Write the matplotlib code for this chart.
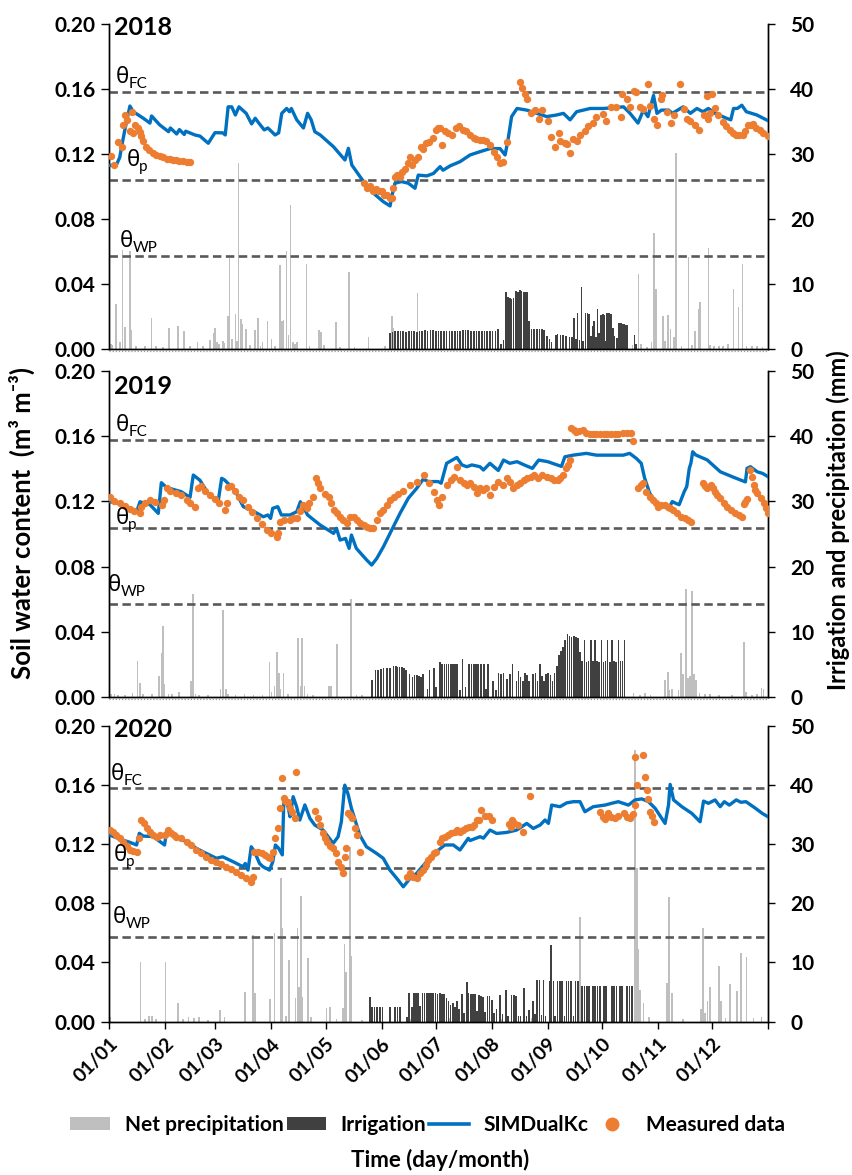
import matplotlib
matplotlib.use("Agg")
import matplotlib.pyplot as plt
from matplotlib.patches import Patch
from matplotlib.lines import Line2D
from matplotlib.transforms import offset_copy

plt.rcParams['font.family'] = ['Lato', 'DejaVu Sans']

# ---------------- data (day of year, value) ----------------
month_days = [0, 31, 59, 90, 120, 151, 181, 212, 243, 273, 304, 334, 365]
month_labels = ['01/01', '01/02', '01/03', '01/04', '01/05', '01/06',
                '01/07', '01/08', '01/09', '01/10', '01/11', '01/12', '']

theta_fc, theta_p, theta_wp = 0.158, 0.104, 0.057

# 2018
sim18_day = [0.5, 4, 6, 7, 9, 11.6, 13.5, 19, 22.7, 23.6, 28, 33, 34, 37.5, 39, 41.7, 42.5, 47.6, 50.4, 55,
             58.7, 63, 64.4, 66, 68, 70, 72, 76, 79, 81, 83, 86, 88, 92, 94, 95.7, 98.4, 100, 101, 104,
             107.7, 110, 112, 114, 117, 124.3, 130.7, 132.6, 134.5, 141, 146.5, 152, 155.7, 156.6, 158.4,
             162, 165.8, 169.5, 171.3, 176, 179.7, 183.4, 185, 189, 194.5, 200, 205.5, 211, 216.6, 219.4,
             221, 223, 226, 231.4, 237, 242.5, 248, 251.7, 255.4, 259, 266.5, 273.9, 285, 288.6, 293,
             296, 298.5, 301.6, 303.5, 306, 310, 312, 318, 322, 325.6, 329, 332, 335.7, 342, 344.4,
             345.9, 348, 350.5, 353, 358.8, 365]
sim18_swc = [.113, .113, .118, .1245, .136, .1495, .146, .142, .139, .1434, .138, .1337, .136, .1323, .135,
             .132, .134, .1317, .131, .1266, .1331, .133, .1317, .149, .149, .144, .149, .145, .1385, .142,
             .139, .1348, .136, .1317, .133, .145, .148, .146, .148, .141, .136, .145, .141, .1337, .1317,
             .1245, .1163, .1235, .1132, .103, .0958, .0906, .088, .0937, .102, .103, .102, .0989, .107,
             .1065, .108, .1122, .110, .1127, .1153, .1194, .1214, .1233, .1233, .1194, .1286, .143, .148,
             .147, .145, .143, .144, .145, .141, .146, .148, .148, .149, .145, .139, .147, .143, .156, .145,
             .147, .147, .145, .149, .145, .148, .146, .148, .145, .142, .141, .148, .148, .150, .146, .144,
             .1405]
obs18_day = [1, 3, 5, 7, 8, 9, 10, 11.6, 12.5, 13.5, 14.4, 16, 17, 18, 19, 20.7, 22, 24.4, 26, 28, 30, 32,
             34, 35.5, 37, 39, 41, 43, 45,
             141, 143, 144.5, 146, 148, 149.5, 151, 152.5, 154, 155.5, 156.6, 157.5, 158.4, 159.5, 161,
             162.5, 164, 165.8, 166.8, 168, 169.5, 171, 172.8, 173.8, 175.5, 177.5, 179.3, 181, 182,
             183.4, 184.4, 186, 188, 190, 192, 194, 196, 198, 200, 202, 203.5, 205.5, 207.4, 209, 211,
             213, 215, 216.6, 218.5, 220.3,
             227.7, 228.6, 230.4, 231.7, 234, 236, 238, 240, 243, 245, 247, 249, 250, 252.5, 253.6,
             255.4, 257, 259, 261, 263.7, 265.5, 268, 270, 273.7, 275.5, 278.2, 281, 283.5, 284, 287,
             288.8, 290.6, 292, 294, 296, 298.8, 299.7, 301.6, 303.6, 305.5, 306.5, 309, 311.2, 313,
             316.5, 318.4, 320, 322, 324.8, 327, 329.6, 331, 331.5, 333, 333.8, 335.7, 337.5, 340, 342,
             343.7, 345.5, 347.4, 349, 351, 352.5, 354, 355.5, 356.7, 358.5, 360.4, 362.5, 365]
obs18_swc = [.119, .1135, .1275, .1245, .138, .144, .141, .134, .146, .133, .138, .136, .1337, .131, .128,
             .1245, .1225, .1204, .1195, .119, .118, .1172, .1167, .1163, .116, .1157, .1154, .1151, .1149,
             .102, .099, .100, .097, .0985, .097, .0975, .095, .0948, .093, .0927, .099, .106, .107, .106,
             .109, .111, .1143, .1183, .113, .116, .118, .1245, .123, .127, .1275, .1297, .1348, .1358,
             .1358, .1255, .134, .133, .1317, .1358, .137, .135, .134, .1317, .130, .129, .1286, .1286,
             .128, .1255, .1214, .118, .1143, .115, .1276,
             .1645, .1605, .157, .154, .145, .147, .1418, .147, .140, .1307, .1245, .1328, .128, .127,
             .126, .1204, .129, .128, .1317, .134, .137, .139, .1425, .1445, .140, .149, .149, .1425,
             .157, .154, .149, .159, .158, .149, .1478, .163, .1498, .1418, .1378, .154, .156, .1458,
             .139, .1438, .163, .1478, .1418, .140, .1378, .1348, .1438, .1554, .1418, .1452, .157, .148,
             .1438, .1397, .137, .1348, .1328, .1317, .1314, .1317, .134, .1378, .138, .1383, .136,
             .1348, .133, .131]
rain18_day = [1, 2, 3.9, 6, 7.4, 8.8, 11.6, 12.5, 15, 20, 23.6, 26, 30, 33.4, 38.4, 41.7, 45, 49, 52, 56,
              57.8, 58.7, 60, 61, 63, 64, 65.8, 66.7, 68, 70, 71, 71.7, 73, 74, 76, 78, 80.9, 82.7, 84,
              85, 87.7, 90, 92, 94.7, 95.7, 96.7, 98.4, 99.5, 100.6, 102, 103, 104, 109.5, 111, 116.3,
              117.5, 119, 125.8, 128, 132.8, 136, 143.7, 153, 155.5, 156.6, 157.6, 170.8, 286, 290,
              293.3, 294.5, 298, 300.5, 302, 303, 306.7, 308, 309.5, 311, 313, 314, 317, 321, 323, 324.5,
              326.5, 327.5, 332, 333, 335, 338, 340, 343, 345.9, 348.6, 350.9, 353, 356, 359, 362]
rain18_mm = [0.8, 0.6, 6.9, 1.0, 15.2, 3.4, 15.0, 2.9, 0.5, 0.4, 4.7, 0.4, 0.3, 3.3, 3.6, 2.7, 0.5, 1.1,
             0.4, 1.4, 2.5, 3.2, 1.0, 0.8, 1.3, 0.9, 5.0, 14.0, 1.5, 5.4, 1.2, 28.6, 4.6, 3.8, 3.0, 0.6,
             2.9, 4.7, 0.5, 1.0, 4.3, 1.6, 0.4, 12.9, 4.3, 4.5, 15.0, 2.1, 22.2, 1.1, 0.8, 1.1, 13.1, 0.4,
             2.9, 2.6, 0.6, 4.1, 0.3, 11.9, 0.3, 1.9, 0.4, 2.5, 5.1, 3.3, 8.6, 1.1, 0.6, 11.5, 0.7, 0.3,
             1.0, 17.9, 9.3, 5.1, 1.3, 5.2, 3.0, 1.8, 30.1, 0.5, 14.1, 0.6, 2.8, 6.2, 7.2, 15.6, 0.6, 0.5,
             0.4, 0.4, 0.7, 9.2, 6.4, 13.1, 0.4, 0.5, 0.4, 0.3]
irr18_day = [155.7, 157, 158.5, 160, 161.5, 163, 164.5, 166, 167.5, 169, 170.5, 172, 173.5, 175, 176.5,
             178, 179.5, 181, 182.5, 184, 185.5, 187, 188.5, 190, 191.5, 193, 194.5, 196, 197.5, 199,
             200.5, 202, 203.5, 205, 206.5, 208, 209.5, 211, 212.5, 214, 215.5, 217, 218.5, 220, 221,
             222, 223, 224, 225.5, 226.5, 227.5, 228.5, 229.5, 230.5, 231.5, 232.8, 234, 235.5, 237,
             238.5, 240, 241, 242.5, 244, 245, 247.5, 248.5, 250, 251.5, 253, 255, 256.5, 257.6, 258.5,
             259.4, 260.5, 261.7, 262.5, 264, 265, 266, 267, 268, 268.8, 269.7, 270.6, 271.5, 272.5,
             273.5, 274.3, 275, 276, 277, 278, 279, 280, 281.5, 282.6, 283.5, 284.5, 285.4, 286.3,
             287.2, 291, 292]
irr18_mm = [2.5, 2.6, 2.7, 2.7, 2.8, 2.7, 2.6, 2.8, 2.8, 2.7, 2.6, 2.8, 2.8, 2.9, 2.8, 2.9, 2.9, 2.7,
            2.7, 2.7, 2.7, 2.7, 2.7, 2.7, 2.7, 2.7, 2.7, 2.9, 2.9, 2.9, 2.8, 2.7, 2.7, 2.7, 2.7, 2.7,
            2.7, 2.7, 2.7, 2.8, 3.0, 0.8, 1.4, 8.8, 8.0, 7.8, 7.7, 7.8, 8.9, 8.8, 9.0, 8.9, 8.8, 8.7,
            8.8, 4.3, 3.0, 3.0, 3.1, 3.1, 3.0, 2.9, 2.0, 1.5, 1.0, 2.2, 2.3, 2.2, 2.2, 2.0, 1.9, 1.9,
            4.8, 1.6, 5.5, 1.4, 9.6, 1.3, 5.5, 5.5, 5.4, 2.0, 3.5, 4.3, 1.8, 6.1, 2.5, 5.3, 5.4, 5.3,
            1.2, 5.5, 5.5, 5.4, 3.3, 2.0, 1.7, 4.0, 4.0, 3.9, 3.8, 3.7, 3.7, 2.2, 0.7]

# 2019
sim19_day = [0.5, 5, 11.6, 15.3, 17.2, 22.7, 27.3, 29, 32, 40, 44.9, 46.7, 50.4, 56, 60.6, 62.4, 64, 69.8,
             74.4, 80, 85.5, 88, 89.5, 90.7, 93.5, 95.5, 100.3, 104, 106, 108, 110, 117, 124.4, 126, 128,
             131, 133, 134.3, 137, 142.8, 145.5, 148.3, 152, 156.6, 161.2, 165.8, 170.4, 174, 177, 182.3,
             184, 187, 192.7, 195.5, 198.2, 201, 205.5, 207.4, 211, 215.6, 218.5, 222, 226, 230, 234.5,
             238, 243, 250.6, 252.5, 257, 264.4, 270, 277.4, 284.8, 288.4, 292.1, 294.8, 296.7, 299.5,
             303.2, 306.9, 310.5, 312, 314, 315.8, 318.6, 320, 321.4, 322.3, 323.3, 325, 331.3, 338.6,
             346, 352.5, 353.4, 355.3, 359, 362, 365]
sim19_swc = [.1198, .119, .1158, .1137, .1198, .118, .1127, .1315, .1285, .126, .1225, .1362, .133, .1229,
             .1209, .1342, .1332, .1268, .1168, .114, .1106, .1117, .1096, .1158, .1168, .1117, .1117,
             .1137, .1198, .1158, .1117, .1055, .1004, .1035, .0963, .0973, .0912, .0994, .0912, .084,
             .081, .085, .0922, .1025, .1127, .122, .128, .1336, .1322, .1322, .1312, .1434, .147, .1424,
             .1413, .1424, .1413, .1393, .1434, .139, .1454, .1434, .1444, .1424, .1403, .1454, .1444,
             .1415, .1474, .1484, .1495, .1484, .1484, .1484, .1495, .1464, .1434, .1342, .125, .1188,
             .1168, .1168, .1199, .1188, .118, .126, .1291, .1403, .1434, .1505, .1485, .1455, .1382,
             .1348, .132, .1403, .1413, .1382, .1372, .1352]
obs19_day = [0.5, 3, 6, 9, 11.6, 14, 17.2, 18, 20, 22.7, 25.5, 29.2, 30.5, 32, 34, 37, 40, 43, 45, 47.6,
             49.5, 51, 53, 56, 58.7, 61, 64.3, 65.2, 66, 67.5, 70, 72, 74.4, 77, 79, 81.8, 84.5, 87.3, 90,
             92.8, 93.6, 94.7, 97, 100, 102, 104, 105.9, 107.7, 109.5, 111, 113, 114.9, 115.8, 117, 119.5,
             121.7, 123, 124.5, 126.5, 128.2, 129.5, 131.9, 133.5, 135.6, 137.5, 139, 141, 142.8, 144.5,
             146.5, 148.3, 150.2, 152, 154, 155.8, 157.6, 160, 163, 167, 170.6, 174.3, 177, 180, 181.5,
             182.8, 184.5, 187.4, 189.2, 191, 193, 194.6, 196.5, 198.3, 200, 202, 203.7, 205.5, 207.4,
             209, 211, 213, 215.6, 218, 220.3, 222, 224, 226, 227.7, 230, 231.5, 233.5, 235.4, 237.5,
             240, 242.5, 245, 246.5, 248.7, 250, 251.5, 253.4, 254.3, 255.2, 256, 257.5, 258.8, 260.5,
             262.5, 264.4, 266.3, 268, 270, 272, 274, 276, 278, 280, 282, 284.8, 287, 289.4, 290, 293,
             294.5, 296, 297.5, 299.5, 301.4, 302.8, 304.1, 306, 307.8, 309.5, 311, 312.4, 314.7, 317,
             319, 320.8, 322.6, 329, 330, 331.3, 333.5, 334.5, 335.6, 336.8, 338.6, 340.5, 342.3, 344.5,
             346.7, 348.8, 350.6, 351.5, 352.5, 353.4, 355.2, 356, 357, 358, 359, 361, 362.6, 364, 365]
obs19_swc = [.1225, .1205, .119, .117, .1152, .114, .1131, .1168, .119, .1209, .1198, .1178, .1209, .128,
             .1265, .125, .1237, .1209, .1188, .1168, .128, .1296, .1265, .1237, .1214, .119, .1147, .1188,
             .1287, .1296, .1265, .1229, .1209, .1168, .1137, .1096, .106, .1025, .1004, .0983, .1004,
             .1076, .1086, .1086, .1096, .1096, .114, .1178, .1158, .1188, .1229, .1342, .1311, .128,
             .1245, .1229, .1188, .1147, .1127, .1106, .1086, .1065, .1106, .1106, .1086, .1065, .1055,
             .1045, .104, .104, .1086, .1127, .115, .118, .1209, .1229, .1245, .1265, .130, .1321, .1362,
             .1311, .126, .1209, .1178, .1229, .1301, .1331, .1352, .1413, .1332, .1311, .1301, .1311,
             .1291, .125, .128, .127, .128, .124, .1291, .132, .1301, .1342, .1321, .128, .130, .1311,
             .1331, .1342, .1352, .1362, .1342, .1362, .1352, .1342, .1331, .1331, .1342, .1362, .1403,
             .1424, .1454, .1648, .164, .1628, .1634, .1638, .162, .1614, .1614, .1614, .1614, .1616,
             .1614, .1614, .1614, .1616, .1618, .1618, .1618, .157, .128, .1301, .1311, .126, .1229,
             .1209, .1188, .1168, .1178, .1178, .1168, .1157, .1147, .1127, .1106, .1096, .1086, .1075,
             .1315, .1295, .128, .1301, .128, .126, .1239, .122, .119, .1168, .1147, .1127, .1117, .1106,
             .1184, .1199, .1213, .1393, .1352, .130, .127, .125, .122, .1188, .116, .1131]
rain19_day = [1, 3, 5, 9, 13, 15.9, 17.1, 19, 24, 27.6, 29.1, 30, 30.7, 33, 35, 38.9, 45.5, 46.6, 48, 50,
              55, 61.7, 63.1, 64.7, 66, 70, 75, 80, 85, 88.9, 90, 91.7, 93, 94.1, 95, 96.7, 99, 104.7,
              106.1, 107, 108.2, 110, 113, 121.8, 122.8, 126.3, 134, 137, 140, 290.5, 294, 297, 300,
              308, 309.5, 310.5, 312, 315.5, 316.7, 318, 319.7, 320.7, 321.7, 322.8, 324, 325, 327, 330,
              333, 338, 345, 351.8, 352.8, 356, 359, 361.5, 362.5]
rain19_mm = [0.4, 0.4, 0.3, 0.3, 0.6, 5.6, 2.2, 0.4, 0.5, 3.2, 6.7, 10.9, 2.0, 0.4, 0.4, 0.7, 2.4, 15.8,
             0.4, 0.3, 0.3, 1.3, 13.4, 1.2, 0.4, 0.3, 0.4, 0.3, 0.3, 5.3, 0.8, 1.7, 6.9, 3.7, 1.2, 3.7,
             0.4, 9.0, 1.7, 9.1, 1.7, 0.4, 0.3, 1.7, 1.7, 8.1, 15.0, 0.3, 0.3, 0.6, 0.3, 0.6, 0.3, 2.6,
             3.8, 1.0, 1.2, 1.0, 6.7, 3.6, 16.5, 2.9, 3.2, 16.3, 3.6, 2.6, 0.6, 0.5, 0.5, 0.3, 0.3, 8.5,
             0.8, 0.3, 0.4, 1.4, 1.2]
irr19_day = [145.8, 147.7, 149, 150.5, 152, 154, 155.5, 157.5, 158.8, 159.9, 161, 162.3, 163.5, 164.6,
             166.5, 168.1, 169.3, 170.5, 171.7, 172.8, 174, 176.4, 177.5, 179.9, 181.2, 183.4, 184.6,
             185.8, 187, 188.1, 189.3, 190.4, 191.6, 192.8, 194.4, 195.9, 197.5, 199.4, 200.8, 202.2,
             203.4, 204.5, 206, 207.6, 208.8, 210, 212.8, 214.3, 215.8, 217.2, 218.6, 220.5, 222,
             223.4, 225.7, 226.9, 228, 229.2, 230.4, 231.5, 232.7, 235, 236.3, 237.4, 238.6, 239.8, 241,
             242.2, 243.3, 244.5, 245.7, 246.8, 248, 249.2, 250.3, 251.5, 252.7, 253.9, 255, 256.2,
             257.4, 258.6, 259.8, 261, 262.1, 263.3, 264.5, 265.6, 266.8, 268, 269.2, 270.3, 271.5,
             272.7, 273.8, 275, 276.2, 277.4, 278.5, 279.7, 280.9, 282.1, 283.3, 284.5, 285.6]
irr19_mm = [2.6, 4.1, 4.2, 4.3, 4.4, 4.45, 4.5, 4.75, 4.7, 4.6, 4.6, 4.6, 4.4, 4.2, 3.5, 3.1, 3.3, 3.4,
            3.2, 3.1, 3.5, 1.2, 4.2, 4.5, 1.5, 5.3, 5.1, 5.0, 5.0, 5.0, 5.0, 5.0, 5.0, 5.0, 1.0, 5.8, 1.6,
            5.0, 5.0, 5.0, 5.0, 5.0, 5.0, 5.0, 1.3, 5.0, 2.5, 1.0, 3.7, 3.6, 3.7, 2.7, 3.5, 5.0, 2.5,
            4.0, 3.0, 2.5, 3.7, 3.4, 2.5, 3.5, 3.7, 2.5, 5.0, 3.2, 2.5, 3.6, 3.7, 3.3, 2.5, 3.7, 4.8,
            6.5, 7.0, 7.6, 8.8, 9.6, 9.4, 9.2, 9.3, 9.2, 9.1, 6.9, 5.5, 8.8, 5.4, 5.5, 8.8, 5.5, 8.8,
            5.5, 5.4, 8.8, 5.4, 5.5, 8.8, 5.4, 8.8, 5.5, 5.4, 8.8, 5.5, 5.5, 8.8]

# 2020
sim20_day = [0.5, 6, 11.6, 15.3, 16.8, 19, 24.4, 30.8, 31.8, 37.3, 42.9, 48.4, 53.9, 59.5, 63, 68.7, 74.2,
             75.5, 77, 78.8, 80.6, 83.4, 85.3, 88.9, 90.7, 92.2, 94, 96, 96.8, 98.6, 99.4, 100.3, 102,
             103.9, 105.7, 108.5, 111.3, 114, 118.6, 124.2, 126.9, 128.7, 130.6, 132.4, 134.3, 138.9,
             142.6, 148.2, 151.9, 155.6, 160.2, 163, 166.7, 170.4, 175.9, 181.4, 186, 190.7, 194.4, 199,
             200, 205.5, 207.4, 211, 214.7, 220.3, 225.8, 231.4, 235, 238.8, 241.5, 243.4, 245.2, 249.8,
             253.5, 257.2, 260.9, 263.6, 268.2, 274.7, 278.4, 282.1, 287.7, 291.4, 295.1, 298.8, 302.5,
             308, 309.9, 310.8, 312.7, 317.3, 322.8, 327.4, 329.3, 332, 335.7, 338.5, 340.8, 343.6,
             347.4, 350, 352.8, 358.1, 361.8, 365]
sim20_swc = [.1262, .1235, .1213, .1195, .1274, .1255, .1252, .1195, .1285, .1251, .1217, .1172, .1138,
             .1105, .1115, .1082, .1048, .107, .1025, .1183, .115, .107, .1048, .1025, .108, .1195, .1172,
             .1128, .1477, .1488, .144, .1386, .1522, .1455, .1364, .1466, .1375, .133, .1296, .1206,
             .1251, .1352, .160, .154, .1442, .1262, .1183, .1138, .1105, .1025, .0957, .0912, .0968,
             .1003, .1082, .115, .1195, .1195, .1161, .124, .1225, .1251, .1241, .1296, .1273, .128,
             .1296, .1341, .1307, .133, .1364, .1341, .1465, .1454, .148, .1488, .1488, .142, .1454,
             .1465, .1477, .1488, .1465, .150, .1507, .1488, .1443, .1341, .1465, .1605, .150, .1454,
             .1409, .1352, .1492, .1477, .150, .1454, .1488, .1465, .150, .1484, .1488, .1443, .1409,
             .1386]
obs20_day = [0.5, 2, 4, 6, 8, 10, 11.6, 13.5, 15.3, 16.8, 18, 19.5, 21, 22.7, 24.5, 26.4, 28.5, 30.8, 32.7,
             34.5, 36, 37.3, 40, 43, 45.5, 48.4, 51, 53.9, 56.5, 59.5, 62, 65, 67.5, 70.5, 73, 76, 78.9,
             79.8, 80.6, 82.5, 84.5, 86.5, 88, 89.3, 91, 92.2, 93.5, 95, 95.8, 96.8, 97.6, 98.6, 99.4,
             100.5, 101.5, 103, 103.6, 114, 115.5, 117, 118.6, 119.7, 121, 122.5, 124.2, 125.5, 127,
             128.3, 129.8, 130.5, 131.5, 132.5, 133.6, 134.6, 136.2, 137.5, 139, 165, 166.7, 168.5, 170.4,
             172, 174, 175.5, 176.9, 178.5, 180, 181.4, 183.2, 184.5, 186, 187.8, 189.5, 191.5, 193,
             194.5, 196.2, 198, 199.5, 200.9, 202, 203.6, 205, 206.2, 208, 210.5, 212.3, 221.6, 222.5,
             223.4, 224.5, 226.3, 229.2, 233, 272, 273.8, 274.7, 276.5, 278.3, 280.4, 282, 285, 286.8,
             288.6, 290, 291.4, 291.5, 292.3, 296, 297, 297.9, 298.8, 299.8, 300.7, 301.6]
obs20_swc = [.1296, .128, .1262, .124, .1217, .119, .1161, .1152, .115, .1243, .1364, .1341, .131, .1285,
             .1262, .1251, .1262, .1262, .1296, .1274, .1262, .1251, .124, .1217, .1195, .1161, .1138,
             .1115, .1093, .1082, .1065, .1048, .1031, .1014, .0992, .097, .0947, .098, .115, .115, .1138,
             .1127, .1115, .1105, .115, .124, .1307, .1448, .165, .1516, .149, .1488, .1488, .1442, .142,
             .1375, .1687, .1425, .1375, .133, .1274, .124, .1217, .119, .1172, .1138, .1082, .1048,
             .1003, .1115, .1172, .1409, .1397, .1375, .1307, .1262, .115, .098, .1003, .098, .097, .1003,
             .1025, .106, .1093, .1115, .1138, .115, .1217, .124, .1251, .1262, .1274, .1285, .1296,
             .1285, .1296, .1308, .1318, .1318, .133, .1364, .1364, .1431, .139, .139, .1364, .134, .132,
             .1364, .1341, .133, .1285, .1528, .142, .1386, .137, .1409, .1386, .1375, .139, .1409, .1386,
             .1375, .1403, .1466, .1793, .160, .1804, .1657, .1567, .1503, .142, .139, .1352]
rain20_day = [0.5, 17.5, 20, 22, 24, 26, 31.4, 38.4, 41, 44, 47, 50, 55, 61.5, 64, 75.3, 79.6, 80.8, 89.3,
              91.6, 95.3, 96.2, 98, 99.7, 103.4, 104.5, 105.2, 106.2, 106.8, 110.4, 112, 120.5, 122.3,
              126, 129.5, 130.4, 131.2, 133.5, 134.3, 140, 150, 167, 189, 217, 230, 234, 251, 261, 266,
              275, 291.4, 292.3, 293.2, 294, 296, 299, 309, 310, 312, 318, 328, 329, 330, 331.5, 333, 338,
              339, 341.5, 344, 347.7, 350, 353, 357, 361.5]
rain20_mm = [0.7, 10.0, 0.4, 1.0, 1.0, 0.5, 10.0, 3.1, 0.4, 0.8, 0.6, 0.8, 0.3, 2.0, 0.8, 5.0, 14.7, 4.8,
             3.8, 15.0, 24.3, 15.8, 1.0, 10.4, 3.9, 15.8, 5.9, 21.3, 4.2, 10.7, 0.7, 2.3, 2.5, 0.5, 2.3,
             13.1, 8.3, 29.5, 11.1, 0.3, 0.3, 0.5, 0.6, 0.5, 1.2, 0.6, 0.5, 17.7, 2.0, 0.5, 45.9, 25.9,
             12.2, 5.4, 3.1, 0.8, 6.6, 21.0, 4.8, 0.5, 2.1, 15.8, 1.5, 3.4, 5.8, 9.4, 3.4, 0.6, 6.4, 5.2,
             11.6, 11.0, 0.6, 0.8]
irr20_day = [144.6, 145.6, 147, 148.5, 150, 151.5, 155.7, 158.4, 159.8, 161.2, 164.9, 166.2, 167.7, 168.8,
             170, 171.2, 172.4, 173.6, 174.8, 176, 177.2, 178.4, 179.6, 180.8, 182, 183.2, 184.4, 185.6,
             187, 188, 189.2, 190.4, 191.6, 192.8, 194, 195.4, 196.6, 198.2, 199.2, 200.4, 201.6, 202.8,
             204, 204.8, 206, 207.2, 208.4, 209.6, 210.8, 212, 213.4, 214.6, 216.6, 218, 219.8, 221, 223,
             224.4, 225.6, 226.8, 228, 230, 231.2, 232.5, 234.7, 236, 237.2, 238.4, 239.6, 240.6, 241.8,
             243.9, 244.8, 246.1, 247.2, 248.4, 249.7, 251, 252.2, 253.4, 254.6, 256, 257.2, 258.4,
             259.7, 262, 263.3, 264.6, 266, 268, 269.3, 270.6, 272, 274, 275.2, 278.5, 279.8, 281, 283,
             284.3, 287, 288.3, 289.6]
irr20_mm = [4.2, 2.4, 2.4, 2.4, 2.4, 2.4, 2.4, 2.4, 2.4, 2.4, 0.8, 4.8, 2.4, 4.8, 4.8, 4.8, 2.6, 4.8, 4.8,
            4.8, 4.8, 4.8, 4.8, 4.8, 4.7, 4.8, 4.6, 4.7, 3.9, 3.5, 2.8, 3.2, 2.5, 3.4, 2.2, 4.6, 1.5, 6.7,
            4.8, 4.6, 4.6, 4.6, 1.8, 4.5, 4.4, 4.2, 1.6, 4.4, 4.4, 3.6, 1.4, 2.2, 4.5, 1.2, 5.3, 1.0, 4.5,
            4.5, 4.4, 1.0, 0.9, 5.6, 1.0, 2.0, 3.4, 1.2, 7.0, 7.0, 1.1, 7.0, 1.0, 6.9, 12.9, 6.9, 1.0,
            6.9, 6.9, 6.9, 1.0, 6.9, 6.9, 6.9, 1.0, 6.9, 6.9, 6.0, 6.0, 6.0, 6.0, 6.0, 6.0, 6.0, 6.0,
            6.0, 6.0, 6.0, 6.0, 6.0, 6.0, 6.0, 6.0, 6.0, 6.0]

# ---------------- figure ----------------
C_RAIN = '#BFBFBF'
C_IRR = '#404040'
C_SIM = '#0070C0'
C_OBS = '#ED7D31'
C_DASH = '#595959'

fig = plt.figure(figsize=(8.52, 11.75), dpi=100)

panels = [
    ('2018', [0.1279, 0.7030, 0.7735, 0.2766], 0.990,
     sim18_day, sim18_swc, obs18_day, obs18_swc, rain18_day, rain18_mm, irr18_day, irr18_mm,
     [(7.5, 0.167), (13.3, 0.116), (9.4, 0.066)]),
    ('2019', [0.1279, 0.4068, 0.7735, 0.2774], 0.952,
     sim19_day, sim19_swc, obs19_day, obs19_swc, rain19_day, rain19_mm, irr19_day, irr19_mm,
     [(7.2, 0.1669), (7.2, 0.1098), (2.8, 0.0687)]),
    ('2020', [0.1279, 0.1306, 0.7735, 0.2515], 0.988,
     sim20_day, sim20_swc, obs20_day, obs20_swc, rain20_day, rain20_mm, irr20_day, irr20_mm,
     [(4.7, 0.1672), (6.1, 0.1127), (5.5, 0.0704)]),
]

for i, (year, rect, ylab, sd, sv, od, ov, rd, rv, idd, iv, tpos) in enumerate(panels):
    ax = fig.add_axes(rect)
    ax2 = ax.twinx()
    ax.set_zorder(ax2.get_zorder() + 1)
    ax.patch.set_visible(False)

    ax2.bar(rd, rv, width=0.9, color=C_RAIN, linewidth=0)
    ax2.bar(idd, iv, width=0.9, color=C_IRR, linewidth=0)
    ax2.set_ylim(0, 50)
    ax2.set_yticks(range(0, 51, 10))

    for th in (theta_fc, theta_p, theta_wp):
        ax.axhline(th, color=C_DASH, lw=1.9, dashes=(3.2, 1.7), zorder=2)
    ax.plot(sd, sv, color=C_SIM, lw=2.4, zorder=3)
    ax.scatter(od, ov, s=28, color=C_OBS, linewidths=0, zorder=4)

    ax.set_xlim(0, 365)
    ax.set_ylim(0, 0.20)
    ax.set_yticks([0, 0.04, 0.08, 0.12, 0.16, 0.20])
    ax.set_yticklabels(['%.2f' % v for v in [0, 0.04, 0.08, 0.12, 0.16, 0.20]])

    for a in (ax, ax2):
        a.spines['top'].set_visible(False)
        for s in a.spines.values():
            s.set_linewidth(1.0)
    ax.tick_params(axis='y', direction='out', length=5.5, width=1, labelsize=15, pad=4)
    ax2.tick_params(axis='y', direction='out', length=5, width=1, labelsize=15, pad=11)
    for lab in ax.get_yticklabels() + ax2.get_yticklabels():
        lab.set_fontweight('bold')
    for lab in ax2.get_yticklabels():
        lab.set_horizontalalignment('left')

    ax.set_xticks(month_days)
    if i < 2:
        ax.tick_params(axis='x', length=0, labelbottom=False)
        ax.plot([0, 1], [-0.007, -0.007], transform=ax.transAxes, ls=(0, (1, 1.5)),
                color='#9A9A9A', lw=0.9, clip_on=False)
    else:
        ax.set_xticklabels(month_labels, rotation=45, ha='right', va='top',
                           rotation_mode='anchor', fontsize=14, fontweight='bold')
        ax.tick_params(axis='x', direction='out', length=5, width=1, pad=5)
    ax2.tick_params(axis='x', length=0, labelbottom=False)

    ax.text(0.007, ylab, year, transform=ax.transAxes, fontsize=18, fontweight='bold',
            ha='left', va='center')

    for (tx, ty), sub in zip(tpos, ['FC', 'p', 'WP']):
        ax.text(tx, ty, 'θ', fontsize=16, ha='center', va='center',
                family=['Noto Sans', 'DejaVu Sans'], zorder=5)
        ax.text(tx, ty, sub, fontsize=11, ha='left', va='center', zorder=5,
                transform=offset_copy(ax.transData, fig=fig, x=4.6, y=-4.8, units='points'))

fig.text(0.026, 0.555, 'Soil water content  (m³ m⁻³)', rotation=90, ha='center', va='center',
         fontsize=18.5, fontweight='bold', family=['Lato', 'DejaVu Sans'])
fig.text(0.984, 0.557, 'Irrigation and precipitation (mm)', rotation=90, ha='center', va='center',
         fontsize=17, fontweight='bold')

handles = [Patch(facecolor=C_RAIN, edgecolor='none'),
           Patch(facecolor=C_IRR, edgecolor='none'),
           Line2D([], [], color=C_SIM, lw=2.6),
           Line2D([], [], marker='o', ls='none', color=C_OBS, markersize=10, markeredgewidth=0)]
labels = ['Net precipitation', 'Irrigation', 'SIMDualKc', 'Measured data']
fig.legend(handles, labels, loc='center', bbox_to_anchor=(0.502, 0.0425), ncol=4, frameon=False,
           prop={'weight': 'bold', 'size': 15}, handlelength=1.9, handleheight=0.6,
           columnspacing=0.15, handletextpad=0.7)

fig.text(0.516, 0.0125, 'Time (day/month)', ha='center', va='center', fontsize=16, fontweight='bold')

fig.savefig('out.png', dpi=100)
